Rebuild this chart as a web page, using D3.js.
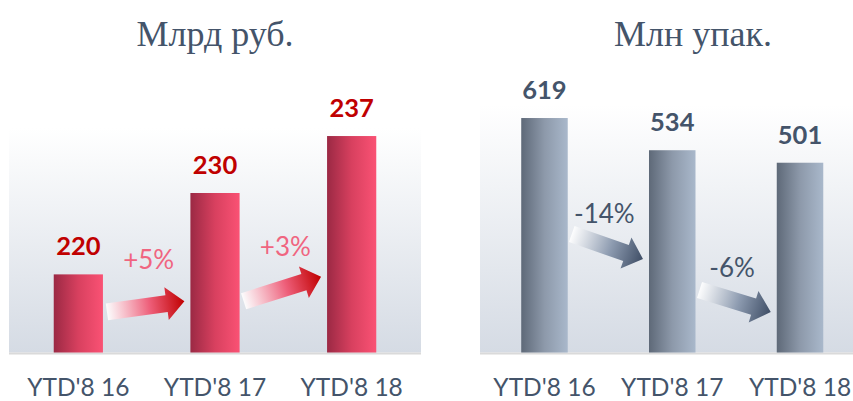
<!DOCTYPE html>
<html><head><meta charset="utf-8">
<script src="https://cdn.jsdelivr.net/npm/d3@7"></script>
<style>html,body{margin:0;padding:0;background:#fff;overflow:hidden}</style>
</head><body>
<script>
// ---- data ----
const categories = ["YTD'8 16", "YTD'8 17", "YTD'8 18"];
const rubValues = [220, 230, 237];        // Млрд руб.
const packValues = [619, 534, 501];       // Млн упак.
const rubTitle = "Млрд руб.";
const packTitle = "Млн упак.";
// change annotations: from bar i to bar i+1, tail/tip heights & label height in data units
const rubChanges = [
  {from: 0, to: 1, label: "+5%", yTail: 215.4, yTip: 216.7, yLabel: 220.6},
  {from: 1, to: 2, label: "+3%", yTail: 216.7, yTip: 219.7, yLabel: 222.2}
];
const packChanges = [
  {from: 0, to: 1, label: "-14%", yTail: 312.8, yTip: 246.8, yLabel: 342},
  {from: 1, to: 2, label: "-6%",  yTail: 165,   yTip: 106.9, yLabel: 199}
];

const W = 853, H = 401;
const svg = d3.select("body").append("svg").attr("width", W).attr("height", H);
const defs = svg.append("defs");

function grad(id, x2, y2, stops) {
  const g = defs.append("linearGradient").attr("id", id)
    .attr("x1", 0).attr("y1", 0).attr("x2", x2).attr("y2", y2);
  stops.forEach(s => g.append("stop").attr("offset", s[0]).attr("stop-color", s[1]).attr("stop-opacity", s[2] == null ? 1 : s[2]));
}
grad("bgL", 0, 1, [[0, "#ffffff"], [1, "#d5dbe4"]]);
grad("bgR", 0, 1, [[0, "#ffffff"], [1, "#d5dbe4"]]);
grad("barRed", 1, 0, [[0, "#9b2944"], [0.5, "#d8405f"], [1, "#fa5274"]]);
grad("barGray", 1, 0, [[0, "#5e6978"], [0.5, "#8d99aa"], [1, "#a9b8cb"]]);
grad("arrRed", 1, 0, [[0, "#ffffff", 0.9], [0.55, "#ee5f7a"], [1, "#c00000"]]);
grad("arrGray", 1, 0, [[0, "#ffffff", 0.9], [0.55, "#8d9bb0"], [1, "#3f4e66"]]);

const baseY = 352.5;

function panel(opt) {
  const g = svg.append("g");
  // background
  g.append("rect").attr("x", opt.bg[0]).attr("y", opt.bgTop)
    .attr("width", opt.bg[1] - opt.bg[0]).attr("height", baseY - opt.bgTop)
    .attr("fill", `url(#${opt.bgId})`);
  g.append("rect").attr("x", opt.bg[0]).attr("y", baseY)
    .attr("width", opt.bg[1] - opt.bg[0]).attr("height", 2).attr("fill", "#dadada");

  const x = d3.scaleBand().domain(categories).range(opt.xRange)
    .paddingInner(opt.pad).paddingOuter(opt.pad / 2);
  const y = d3.scaleLinear().domain(opt.yDomain).range([baseY, opt.yTop]);

  // title
  g.append("text").attr("x", opt.titleX).attr("y", 46).attr("text-anchor", "middle")
    .attr("font-family", "'Liberation Serif', serif").attr("font-size", 36)
    .attr("fill", "#44546a").text(opt.title);

  // bars
  g.selectAll("rect.bar").data(opt.values).join("rect").attr("class", "bar")
    .attr("x", (d, i) => x(categories[i])).attr("width", x.bandwidth())
    .attr("y", d => y(d)).attr("height", d => baseY - y(d))
    .attr("fill", `url(#${opt.barId})`);

  // value labels
  g.selectAll("text.val").data(opt.values).join("text").attr("class", "val")
    .attr("x", (d, i) => x(categories[i]) + x.bandwidth() / 2)
    .attr("y", d => y(d) - 19).attr("text-anchor", "middle")
    .attr("font-family", "Lato, sans-serif").attr("font-weight", "bold").attr("font-size", 25.5)
    .attr("fill", opt.valColor).text(d => d);

  // x axis labels
  const ax = g.append("g").attr("transform", `translate(0,${baseY})`)
    .call(d3.axisBottom(x).tickSize(0).tickPadding(0));
  ax.select(".domain").remove();
  ax.selectAll("text").attr("y", 43).attr("dy", null)
    .attr("font-family", "Lato, sans-serif").attr("font-size", 24.5).attr("fill", "#44546a");

  // arrows
  opt.changes.forEach(c => {
    const x0 = x(categories[c.from]) + x.bandwidth() + 4;
    const x1 = x(categories[c.to]) - 6;
    const y0 = y(c.yTail), y1 = y(c.yTip);
    const L = Math.hypot(x1 - x0, y1 - y0);
    const ang = Math.atan2(y1 - y0, x1 - x0) * 180 / Math.PI;
    const bh = 8.5, hh = 16.5, hl = 18;
    const pts = [[0, -bh], [L - hl, -bh], [L - hl, -hh], [L, 0], [L - hl, hh], [L - hl, bh], [0, bh]];
    g.append("g").attr("transform", `translate(${x0},${y0}) rotate(${ang})`)
      .append("path").attr("d", d3.line()(pts) + "Z").attr("fill", `url(#${opt.arrId})`);
    g.append("text").attr("x", (x0 + x1) / 2 + opt.lblDx).attr("y", y(c.yLabel))
      .attr("text-anchor", "middle").attr("font-family", "Lato, sans-serif").attr("font-size", 26)
      .attr("fill", opt.pctColor).text(c.label);
  });
}

panel({
  title: rubTitle, titleX: 215, values: rubValues, changes: rubChanges,
  bg: [9, 421], bgTop: 128, bgId: "bgL",
  xRange: [10, 420], pad: 0.64,
  yDomain: [210.4, 240.2], yTop: 110,
  barId: "barRed", arrId: "arrRed",
  valColor: "#c00000", pctColor: "#f06580", lblDx: 3
});
panel({
  title: packTitle, titleX: 693, values: packValues, changes: packChanges,
  bg: [480, 853], bgTop: 105, bgId: "bgR",
  xRange: [480.6, 863.9], pad: 0.636,
  yDomain: [0, 640], yTop: 352.5 - 0.3788 * 640,
  barId: "barGray", arrId: "arrGray",
  valColor: "#44546a", pctColor: "#44546a", lblDx: -3
});
</script>
</body></html>
